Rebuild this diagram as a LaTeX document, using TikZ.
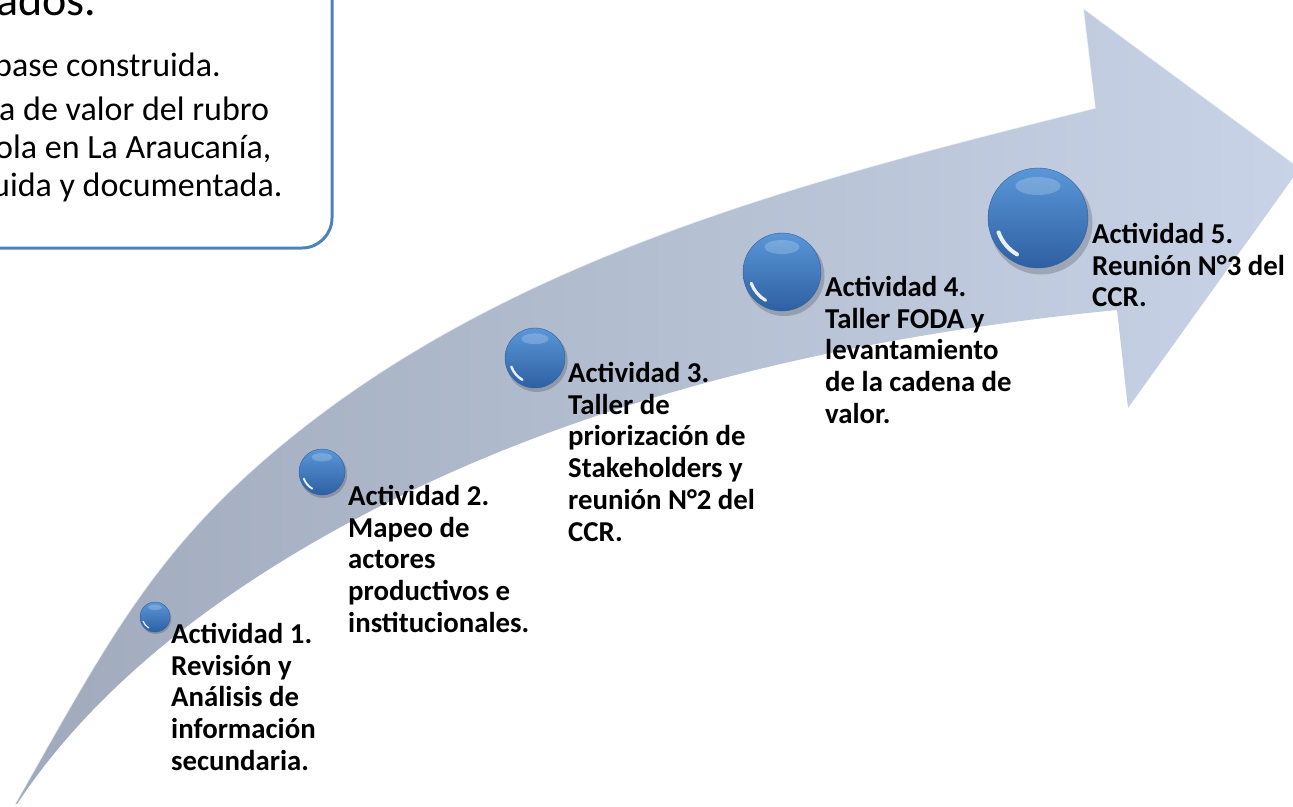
\documentclass[tikz,border=0pt]{standalone}
\usepackage{fontspec}
\setmainfont{Carlito}
\definecolor{boxblue}{HTML}{4F81BD}
\definecolor{arrL}{HTML}{A0AABC}
\definecolor{arrR}{HTML}{C9D3E7}
\definecolor{ballhi}{HTML}{5A97D8}
\definecolor{balllo}{HTML}{2D60A2}
\newcommand\drawball[4]{%
  \fill[black,opacity=.18] ({#2+0.06*#4},{#3+0.1*#4}) circle [radius={1.03*#4}];
  \node[ballst,minimum size={2*#4 pt}] (#1) at (#2,#3) {};
  \fill[white,opacity=.2] ({#2},{#3-0.64*#4}) ellipse [x radius={0.45*#4}, y radius={0.18*#4}];
  \draw[white,opacity=.9,line width={0.08*#4 pt},line cap=round]
    ({#2+0.84*#4*cos(120)},{#3+0.84*#4*sin(120)}) arc [start angle=120, end angle=160, radius={0.84*#4}];
}
\begin{document}
\begin{tikzpicture}[x=1pt,y=-1pt,
  ballst/.style={circle,inner sep=0pt,top color=ballhi,bottom color=balllo,draw=balllo,line width=.4pt},
  lbl/.style={anchor=north west,align=left,inner sep=0pt,font=\bfseries\fontsize{28.8}{31.8}\selectfont},
  boxtxt/.style={anchor=base west,inner sep=0pt,font=\fontsize{34}{40}\selectfont}]
\useasboundingbox (0,0) rectangle (1293,806);
\clip (0,0) rectangle (1293,806);
% text box
\draw[boxblue,line width=3pt,fill=white,rounded corners=30pt] (-60,-60) rectangle (332,248);
\node[anchor=base west,inner sep=0pt,font=\fontsize{46}{54}\selectfont] (title) at (-4,15) {ados.};
\node[boxtxt] (l1) at (-6,76) {base construida.};
\node[boxtxt] (l2) at (-1,120) {a de valor del rubro};
\node[boxtxt] (l3) at (-5,158) {ola en La Araucanía,};
\node[boxtxt] (l4) at (-8,196) {uida y documentada.};
% arrow
\shade[left color=arrL,right color=arrR]
  (15,804) .. controls (114,630) and (162,533) .. (322,413)
  .. controls (544,247) and (826,175) .. (1095,108)
  -- (1083,8) -- (1300,168) -- (1128,408) -- (1117,310)
  .. controls (853,336) and (583,396) .. (350,522)
  .. controls (222,591) and (97,683) .. (17,804) -- cycle;
\draw[white,opacity=.7,line width=1.3pt]
  (15,804) .. controls (114,630) and (162,533) .. (322,413)
  .. controls (544,247) and (826,175) .. (1095,108)
  -- (1083,8) -- (1300,168);
% balls
\drawball{b1}{155}{617}{15}
\drawball{b2}{322}{472}{23}
\drawball{b3}{535}{358}{30}
\drawball{b4}{782}{272}{39}
\drawball{b5}{1038}{218}{50}
% labels
\node[lbl] (t1) at (171,622.8) {Actividad 1.\\Revisión y\\Análisis de\\información\\secundaria.};
\node[lbl] (t2) at (348,484.8) {Actividad 2.\\Mapeo de\\actores\\productivos e\\institucionales.};
\node[lbl] (t3) at (568,361.8) {Actividad 3.\\Taller de\\priorización de\\Stakeholders y\\reunión N°2 del\\CCR.};
\node[lbl] (t4) at (825,275.8) {Actividad 4.\\Taller FODA y\\levantamiento\\de la cadena de\\valor.};
\node[lbl] (t5) at (1092,222.8) {Actividad 5.\\Reunión N°3 del\\CCR.};
\end{tikzpicture}
\end{document}
